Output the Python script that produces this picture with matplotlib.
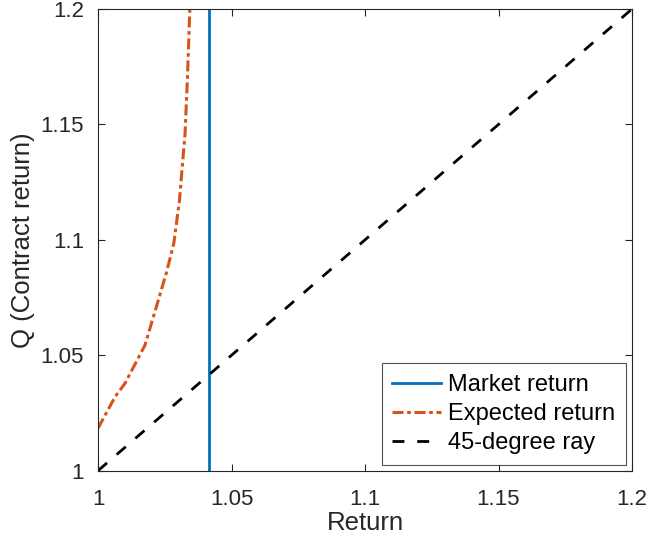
import matplotlib.pyplot as plt

# === Daten ===
markt_rendite = 1.0415
erwartet_x = [1.0, 1.0064, 1.0101, 1.0176, 1.0226, 1.0257, 1.0284, 1.0305, 1.0326, 1.0335, 1.0344]
erwartet_q = [1.0184, 1.032, 1.0378, 1.0544, 1.0739, 1.0861, 1.0985, 1.117, 1.146, 1.17, 1.2]
strahl = [1.0, 1.2]
ticks = [1.0, 1.05, 1.1, 1.15, 1.2]
tick_labels = ['1', '1.05', '1.1', '1.15', '1.2']

plt.rcParams['font.family'] = ['Liberation Sans', 'DejaVu Sans']
grau = '#262626'

fig = plt.figure(figsize=(6.51, 5.46), dpi=100)
ax = fig.add_axes([98 / 651, 1 - 470.7 / 546, 534 / 651, 461.7 / 546])

ax.axvline(markt_rendite, color='#0072BD', lw=2.0, label='Market return')
ax.plot(erwartet_x, erwartet_q, color='#D95319', lw=2.2, linestyle=(0, (3.6, 1.2, 1.2, 1.2)),
        label='Expected return')
ax.plot(strahl, strahl, color='black', lw=2.0, linestyle=(0, (4.3, 4.6)), label='45-degree ray')

ax.set_xlim(1, 1.2)
ax.set_ylim(1, 1.2)
ax.set_xticks(ticks)
ax.set_xticklabels(tick_labels)
ax.set_yticks(ticks)
ax.set_yticklabels(tick_labels)
ax.tick_params(direction='in', top=True, right=True, length=5, width=0.8,
               labelsize=16, colors=grau)
ax.tick_params(axis='x', pad=13)
ax.tick_params(axis='y', pad=10)
for s in ax.spines.values():
    s.set_color(grau)
    s.set_linewidth(0.8)

ax.set_xlabel('Return', fontsize=18.5, color=grau, labelpad=1)
ax.set_ylabel('Q (Contract return)', fontsize=18.5, color=grau, labelpad=4)

leg = ax.legend(loc='lower right', fontsize=17, frameon=True, fancybox=False,
                edgecolor=grau, handlelength=2.07, handletextpad=0.3,
                borderaxespad=0.25, labelspacing=0.3, borderpad=0.45)
leg.get_frame().set_linewidth(0.8)

fig.savefig('out.png', dpi=100)
